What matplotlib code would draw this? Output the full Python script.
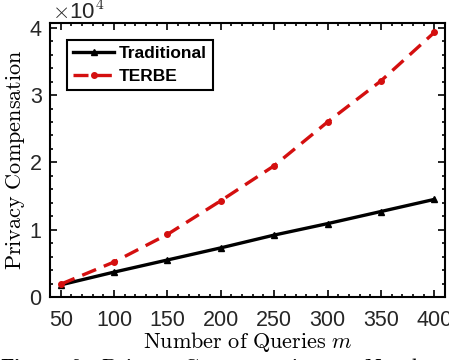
import matplotlib
matplotlib.use("Agg")
import matplotlib.pyplot as plt
from matplotlib.ticker import MultipleLocator, FuncFormatter

queries = [50, 100, 150, 200, 250, 300, 350, 400]
traditional = [1800, 3700, 5500, 7300, 9200, 10900, 12700, 14500]
terbe = [1900, 5200, 9300, 14300, 19500, 26000, 32100, 39300]
series_labels = ["Traditional", "TERBE"]

plt.rcParams['mathtext.fontset'] = 'cm'
sans = ['Liberation Sans', 'DejaVu Sans']

fig = plt.figure(figsize=(4.49, 3.6), dpi=100)
ax = fig.add_axes([0.1114, 0.175, 0.8796, 0.761])

ax.plot(queries, traditional, '-', color='black', lw=2.4, marker='^', ms=5,
        label=series_labels[0])
ax.plot(queries, terbe, '--', color='#d40f0f', lw=2.4, marker='o', ms=4,
        dashes=(4.5, 2.5), label=series_labels[1])

ax.set_xlim(40, 410)
ax.set_ylim(0, 40700)
ax.set_xticks(queries)
ax.set_yticks([0, 10000, 20000, 30000, 40000])
ax.yaxis.set_major_formatter(FuncFormatter(lambda v, p: f"{int(round(v/1e4))}"))
ax.xaxis.set_minor_locator(MultipleLocator(10))
ax.yaxis.set_minor_locator(MultipleLocator(2000))
ax.tick_params(which='both', direction='in', top=True, right=True, width=1.2)
ax.tick_params(which='major', length=5, labelsize=15.5)
ax.tick_params(axis='x', which='major', pad=9)
ax.tick_params(axis='y', which='major', pad=6)
ax.tick_params(which='minor', length=2.5)
for lab in ax.get_xticklabels() + ax.get_yticklabels():
    lab.set_family(sans)
    lab.set_color('#262626')
for s in ax.spines.values():
    s.set_linewidth(1.5)

ax.text(0.005, 1.012, r'$\times$10$^4$', transform=ax.transAxes, fontsize=16,
        family=sans, color='#262626', ha='left', va='baseline')

ax.set_xlabel(r'$\mathrm{Number\ of\ Queries}\ m$', fontsize=16, labelpad=0)
ax.set_ylabel(r'$\mathrm{Privacy\ Compensation}$', fontsize=16, labelpad=2)

leg = ax.legend(loc='upper left', bbox_to_anchor=(0.02, 0.97), fancybox=False,
                edgecolor='black', framealpha=1, prop={'family': sans, 'weight': 'bold', 'size': 12.5},
                handlelength=2.4, borderpad=0.35, labelspacing=0.45, handletextpad=0.25)
leg.get_frame().set_linewidth(1.5)

fig.text(0.0, 0.012, r'$\mathbf{Figure\ 6:}\ \mathrm{Privacy\ Compensation\ vs.\ Number\ of}$',
         fontsize=16, ha='left', va='top')

fig.savefig('out.png', dpi=100)
